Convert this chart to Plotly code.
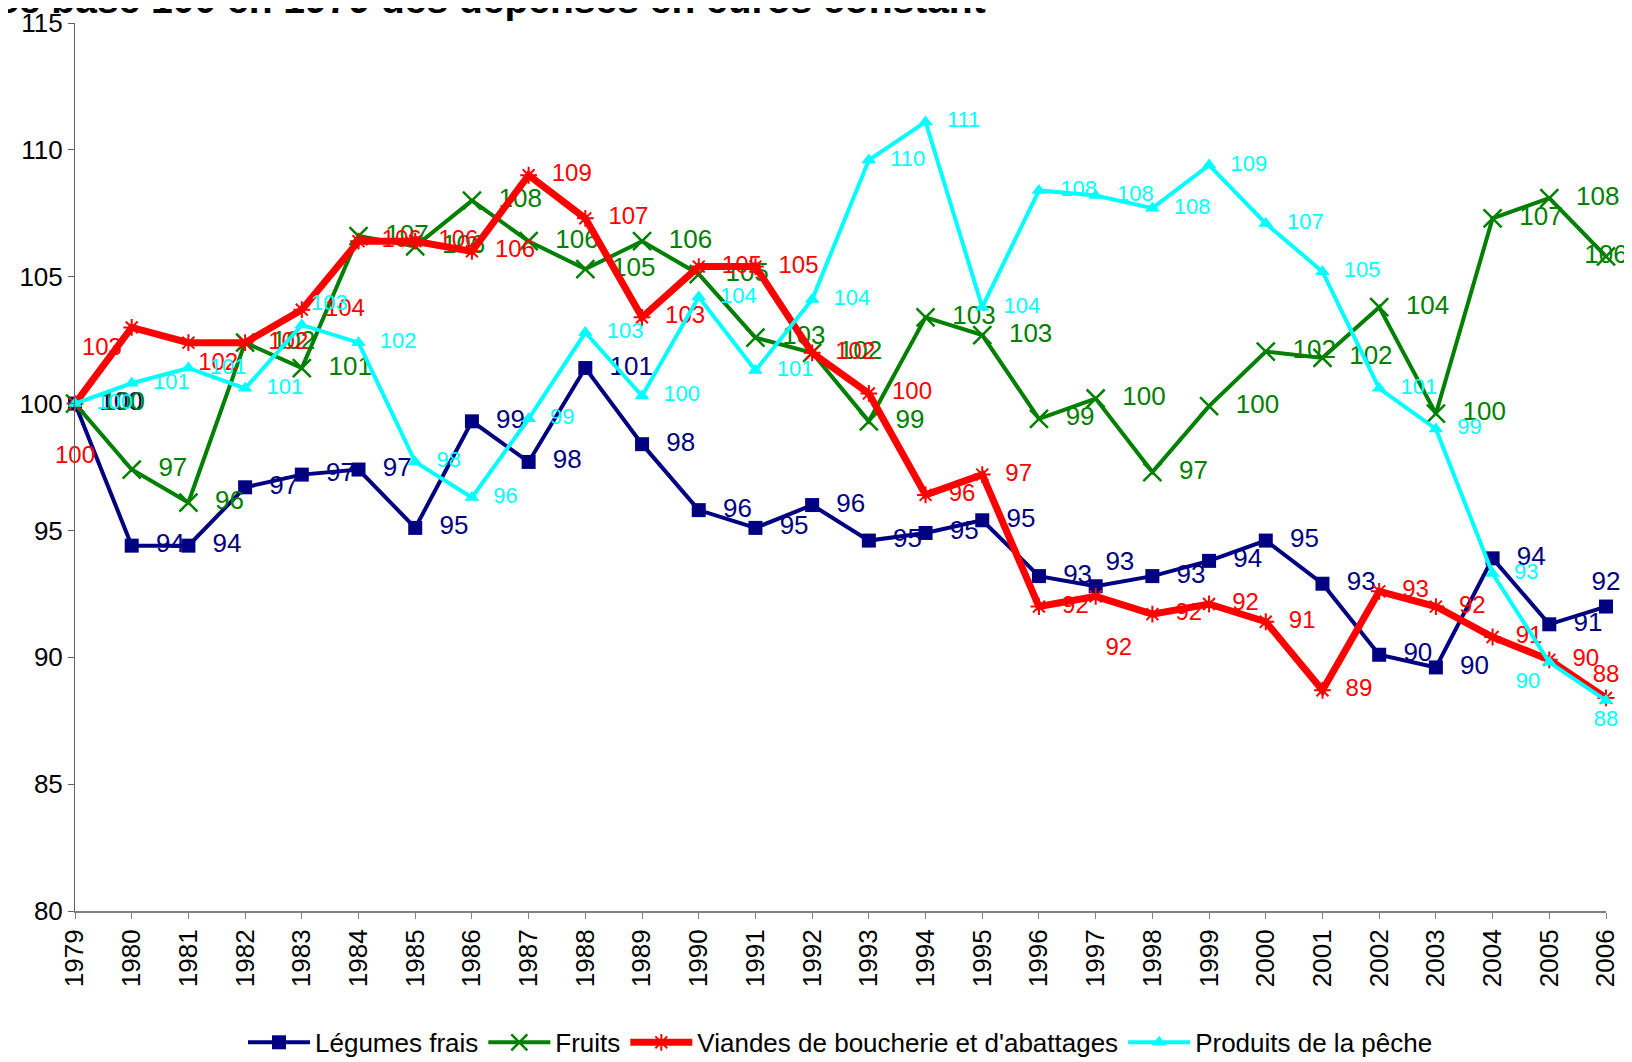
import plotly.graph_objects as go

years = list(range(1979, 2007))

legumes = [100, 94.4, 94.4, 96.7, 97.2, 97.4, 95.1, 99.3, 97.7, 101.4, 98.4, 95.8, 95.1, 96.0,
           94.6, 94.9, 95.4, 93.2, 92.8, 93.2, 93.8, 94.6, 92.9, 90.1, 89.6, 93.9, 91.3, 92.0]
fruits = [100, 97.4, 96.1, 102.4, 101.4, 106.6, 106.2, 108.0, 106.4, 105.3, 106.4, 105.1, 102.6, 102.0,
          99.3, 103.4, 102.7, 99.4, 100.2, 97.3, 99.9, 102.05, 101.8, 103.8, 99.6, 107.3, 108.1, 105.8]
viandes = [100, 103.0, 102.4, 102.4, 103.7, 106.4, 106.4, 106.0, 109.0, 107.3, 103.4, 105.4, 105.4, 102.0,
           100.4, 96.4, 97.2, 92.0, 92.4, 91.7, 92.1, 91.4, 88.7, 92.6, 92.0, 90.8, 89.9, 88.4]
peche = [100, 100.8, 101.4, 100.6, 103.1, 102.4, 97.7, 96.3, 99.4, 102.8, 100.3, 104.2, 101.3, 104.1,
         109.6, 111.1, 103.8, 108.4, 108.2, 107.7, 109.4, 107.1, 105.2, 100.6, 99.0, 93.3, 89.8, 88.3]

names = ["Légumes frais", "Fruits", "Viandes de boucherie et d'abattages", "Produits de la pêche"]
title_text = "Evolution en indice base 100 en 1979 des dépenses en euros constant"

FONT = "Liberation Sans, Arial, sans-serif"
NB = "\u00a0"


def label_style(overrides, pushed=()):
    """Per-point label position and template (style only, no data)."""
    pos = ["middle right"] * len(years)
    for yr, p in overrides.items():
        pos[yr - 1979] = p
    tpl = []
    for i, p in enumerate(pos):
        t = "%{y:.0f}"
        if p == "middle right":
            t = NB + NB + t
        if years[i] in pushed:
            t = NB + "<br>" + t
        tpl.append(t)
    return pos, tpl


fig = go.Figure()

pos, tpl = label_style({1997: "top right", 2006: "top center"})
fig.add_trace(go.Scatter(
    x=years, y=legumes, name=names[0], mode="lines+markers+text",
    line=dict(color="#000080", width=4),
    marker=dict(symbol="square", size=14, color="#000080"),
    texttemplate=tpl, textposition=pos,
    textfont=dict(family=FONT, size=26, color="#000080"), cliponaxis=False))

pos, tpl = label_style({2006: "middle center"})
fig.add_trace(go.Scatter(
    x=years, y=fruits, name=names[1], mode="lines+markers+text",
    line=dict(color="#008000", width=4),
    marker=dict(symbol="x-thin-open", size=18, color="#008000", line=dict(color="#008000", width=2.5)),
    texttemplate=tpl, textposition=pos,
    textfont=dict(family=FONT, size=26, color="#008000"), cliponaxis=False))

pos, tpl = label_style({1979: "bottom center", 1980: "bottom left", 1981: "bottom right",
                        1997: "bottom right", 2006: "top center"}, pushed=(1979, 1997))
fig.add_trace(go.Scatter(
    x=years, y=viandes, name=names[2], mode="lines+markers+text",
    line=dict(color="#FF0000", width=7),
    marker=dict(symbol="asterisk-open", size=14, color="#FF0000", line=dict(color="#FF0000", width=2)),
    texttemplate=tpl, textposition=pos,
    textfont=dict(family=FONT, size=24, color="#FF0000"), cliponaxis=False))

pos, tpl = label_style({1983: "top right", 2005: "bottom left", 2006: "bottom center"})
fig.add_trace(go.Scatter(
    x=years, y=peche, name=names[3], mode="lines+markers+text",
    line=dict(color="#00FFFF", width=4),
    marker=dict(symbol="triangle-up", size=13, color="#00FFFF"),
    texttemplate=tpl, textposition=pos,
    textfont=dict(family=FONT, size=22, color="#00FFFF"), cliponaxis=False))

fig.update_layout(
    width=1632, height=1062,
    margin=dict(l=67, r=34, t=15, b=159, autoexpand=False),
    plot_bgcolor="white", paper_bgcolor="white",
    showlegend=True,
    legend=dict(orientation="h", x=0.5, xanchor="center", xref="paper",
                y=0.026, yanchor="middle", yref="container",
                font=dict(family=FONT, size=26, color="black"),
                itemwidth=62, tracegroupgap=0),
    annotations=[dict(text="<b>" + title_text + "</b>", xref="paper", yref="paper",
                      x=0.5963, y=1.0, xanchor="right", yanchor="bottom", showarrow=False,
                      font=dict(family=FONT, size=39, color="black"))],
)

fig.update_xaxes(range=[1979, 2006], tickmode="linear", tick0=1979, dtick=1, tickangle=-90,
                 automargin=False,
                 showgrid=False, zeroline=False, showline=True, linecolor="#808080", linewidth=2,
                 ticks="outside", ticklen=6, tickcolor="#808080",
                 tickfont=dict(family=FONT, size=26, color="black"))
fig.update_yaxes(range=[80, 115], tickmode="linear", tick0=80, dtick=5, automargin=False,
                 showgrid=False, zeroline=False, showline=True, linecolor="#606060", linewidth=1,
                 ticks="outside", ticklen=6, tickcolor="#606060",
                 tickfont=dict(family=FONT, size=26, color="black"))

fig.write_html("out.html")
